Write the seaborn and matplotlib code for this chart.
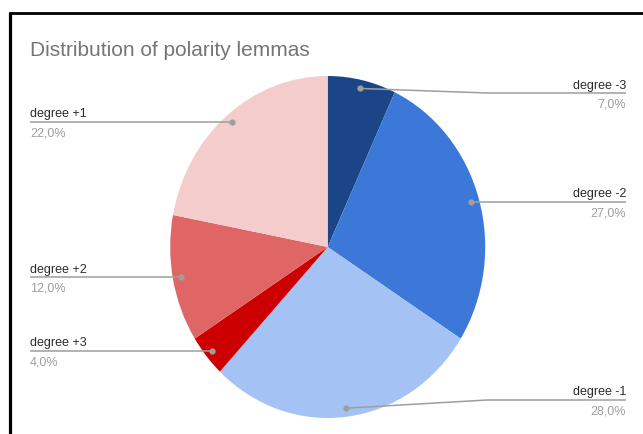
import numpy as np
import matplotlib.pyplot as plt
import seaborn as sns

# data
labels = ['degree -3', 'degree -2', 'degree -1', 'degree +3', 'degree +2', 'degree +1']
shares = [7, 27, 28, 4, 12, 22]
colors = ['#1c4587', '#3c78d8', '#a4c2f4', '#cc0000', '#e06666', '#f4cccc']
title = 'Distribution of polarity lemmas'

sns.set_theme(style='white')
plt.rcParams['font.family'] = ['Liberation Sans', 'DejaVu Sans']

W, H = 643, 434
fig = plt.figure(figsize=(W / 100, H / 100), dpi=100)
fig.patch.set_facecolor('white')

# pie (slightly squeezed horizontally like the screenshot)
cx, cy, rx, ry = 327.7, 247.0, 157.5, 171.0
ax = fig.add_axes([(cx - rx) / W, (H - cy - ry) / H, 2 * rx / W, 2 * ry / H])
ax.pie(shares, colors=colors, startangle=90, counterclock=False,
       wedgeprops=dict(linewidth=0))
ax.set_aspect('auto')
ax.set_xlim(-1, 1)
ax.set_ylim(-1, 1)
ax.axis('off')

# overlay in pixel coords for labels / leader lines
ov = fig.add_axes([0, 0, 1, 1], zorder=5)
ov.set_xlim(0, W)
ov.set_ylim(H, 0)
ov.axis('off')
ov.patch.set_alpha(0)

vals = np.array(shares, dtype=float)
mid = (np.cumsum(vals) - vals / 2) / vals.sum() * 2 * np.pi
dot_x = cx + 0.95 * rx * np.sin(mid)
dot_y = cy - 0.95 * ry * np.cos(mid)

line_c = '#9e9e9e'
for lab, v, x0, y0 in zip(labels, shares, dot_x, dot_y):
    pct = f'{v:.1f}%'.replace('.', ',')
    if x0 > cx:
        ly = float(np.clip(y0, 93, 400))
        xe, ha = 626, 'right'
        if abs(ly - y0) > 1:
            xs, ys = [x0, 487, xe], [y0, ly, ly]
        else:
            xs, ys = [x0, xe], [y0, ly]
    else:
        ly = y0
        xe, ha = 30, 'left'
        xs, ys = [x0, xe], [y0, ly]
    ov.plot(xs, ys, color=line_c, lw=1.1, solid_capstyle='butt')
    ov.plot(x0, y0, 'o', ms=4.5, color=line_c, mec='none')
    ov.text(xe, ly - 4.5, lab, ha=ha, va='baseline', fontsize=9, color='#2b2b2b')
    ov.text(xe, ly + 5.5, pct, ha=ha, va='top', fontsize=9, color='#9e9e9e')

# title
ov.text(30, 56.5, title, ha='left', va='baseline', fontsize=15, color='#757575')

# screenshot border (left + top)
ov.plot([9.5, 9.5], [12, H], color='black', lw=2.3, clip_on=False, solid_capstyle='butt')
ov.plot([8.5, W], [13, 13], color='black', lw=2.0, clip_on=False, solid_capstyle='butt')

fig.savefig('out.png', dpi=100)
